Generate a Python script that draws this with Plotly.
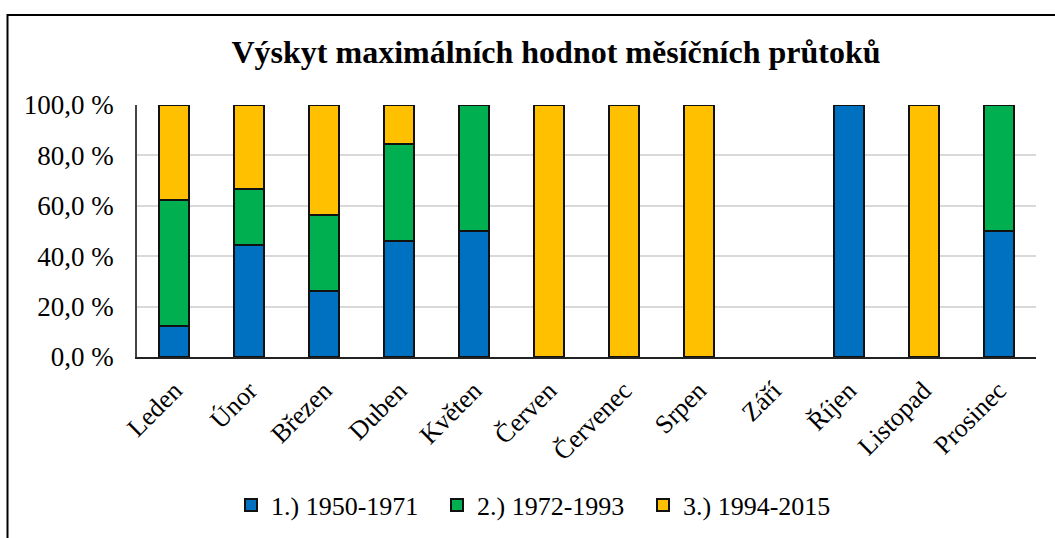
import plotly.graph_objects as go

months = ["Leden", "Únor", "Březen", "Duben", "Květen", "Červen", "Červenec",
          "Srpen", "Září", "Říjen", "Listopad", "Prosinec"]
s1 = [12.5, 44.4, 26.1, 46.2, 50.0, None, None, None, None, 100.0, None, 50.0]
s2 = [50.0, 22.2, 30.4, 38.5, 50.0, None, None, None, None, None, None, 50.0]
s3 = [37.5, 33.3, 43.5, 15.4, None, 100.0, 100.0, 100.0, None, None, 100.0, None]
names = ["1.) 1950-1971", "2.) 1972-1993", "3.) 1994-2015"]
colors = ["#0070C0", "#00B050", "#FFC000"]
yticks = [0, 20, 40, 60, 80, 100]
yticktext = ["0,0 %", "20,0 %", "40,0 %", "60,0 %", "80,0 %", "100,0 %"]

FONT = "Liberation Serif, Times New Roman, serif"
W, H = 1055, 538
L, R, T, B = 137, 19, 105, 181
pw, ph = W - L - R, H - T - B

fig = go.Figure()
for vals, nm, c in zip([s1, s2, s3], names, colors):
    fig.add_trace(go.Bar(x=months, y=vals, name=nm, width=0.4,
                         marker=dict(color=c, line=dict(color="#111111", width=2))))

def px2x(p):
    return (p - L) / pw

def px2y(p):
    return (H - B - p) / ph

fig.update_layout(
    width=W, height=H,
    margin=dict(l=L, r=R, t=T, b=B, autoexpand=False),
    barmode="stack",
    paper_bgcolor="white", plot_bgcolor="white",
    font=dict(family=FONT, size=26, color="black"),
    title=dict(text="<b>Výskyt maximálních hodnot měsíčních průtoků</b>",
               x=556 / W, xanchor="center", y=1 - 52 / H, yanchor="middle",
               font=dict(family=FONT, size=32, color="black")),
    xaxis=dict(tickangle=-45, showline=True, linecolor="#222222", linewidth=2,
               ticks="", tickfont=dict(size=26), ticklabelstandoff=6, automargin=False),
    yaxis=dict(range=[0, 100], tickvals=yticks, ticktext=yticktext,
               showgrid=True, gridcolor="#d9d9d9", gridwidth=1.5,
               showline=True, linecolor="#444444", linewidth=1.5,
               ticks="", tickfont=dict(size=27), ticklabelstandoff=16, zeroline=False,
               automargin=False),
    legend=dict(orientation="h", x=px2x(540), xanchor="center",
                y=px2y(505), yanchor="middle", font=dict(size=26),
                itemwidth=30, traceorder="normal", entrywidth=161),
    bargap=0.6,
)
fig.add_shape(type="rect", xref="paper", yref="paper",
              x0=px2x(7.5), x1=px2x(1062), y0=px2y(15), y1=px2y(560),
              line=dict(color="black", width=2), fillcolor="rgba(0,0,0,0)", layer="below")
fig.write_html("out.html", config={"displayModeBar": False},
               post_script="document.body.style.margin='0';document.body.style.overflow='hidden';")
